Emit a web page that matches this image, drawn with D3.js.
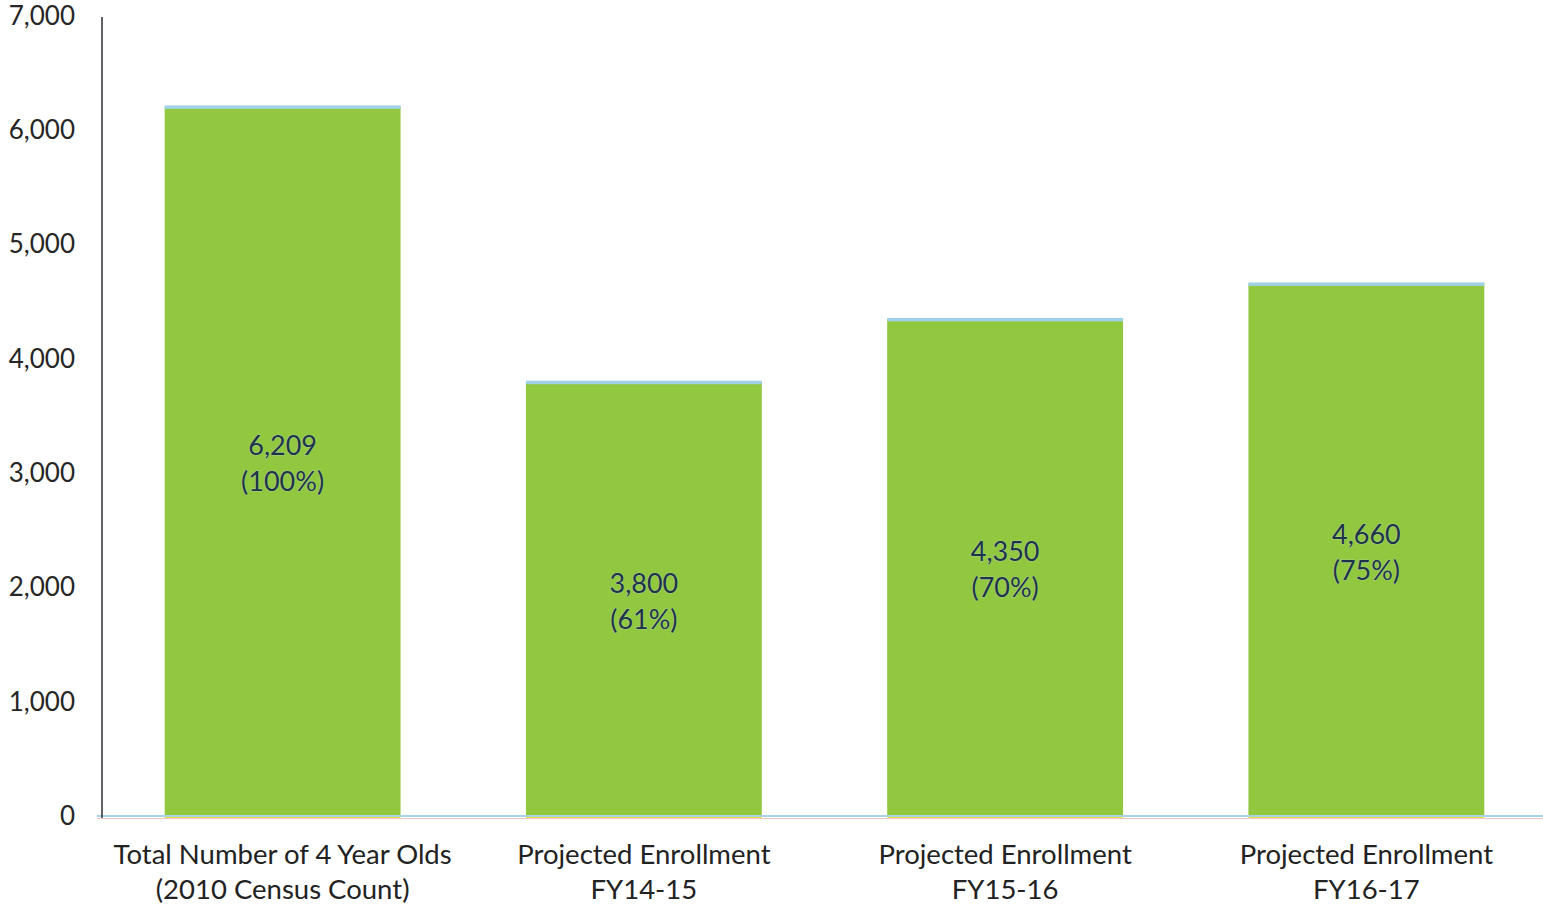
<!DOCTYPE html>
<html>
<head>
<meta charset="utf-8">
<script src="https://cdn.jsdelivr.net/npm/d3@7"></script>
<style>
  html, body { margin: 0; padding: 0; background: #fff; }
  svg { display: block; }
  text { font-family: Lato, "Open Sans", sans-serif; }
</style>
</head>
<body>
<svg id="chart" width="1543" height="906"></svg>
<script>
// Enrollment figures
const categories = [
  ["Total Number of 4 Year Olds", "(2010 Census Count)"],
  ["Projected Enrollment", "FY14-15"],
  ["Projected Enrollment", "FY15-16"],
  ["Projected Enrollment", "FY16-17"]
];
const values = [6209, 3800, 4350, 4660];
const percents = ["100%", "61%", "70%", "75%"];
const yTicks = [0, 1000, 2000, 3000, 4000, 5000, 6000, 7000];

const svg = d3.select("#chart");
const plotLeft = 102, plotRight = 1547, plotTop = 16, plotBottom = 816;

const x = d3.scaleBand()
  .domain(d3.range(categories.length))
  .range([plotLeft, plotRight])
  .paddingInner(0.347)
  .paddingOuter(0.1735);

const y = d3.scaleLinear().domain([0, 7000]).range([plotBottom, plotTop]);

// y tick labels
const yAxis = d3.axisLeft(y).tickValues(yTicks).tickFormat(d3.format(",")).tickSize(0).tickPadding(0);
const gy = svg.append("g").attr("transform", `translate(${plotLeft - 27},0)`).call(yAxis);
gy.select(".domain").remove();
gy.selectAll("text")
  .attr("font-size", 26)
  .attr("fill", "#262626")
  .attr("font-family", "Lato, 'Open Sans', sans-serif");

// bars
const bars = svg.append("g");
values.forEach((v, i) => {
  const bx = x(i), bw = x.bandwidth();
  bars.append("rect")
    .attr("x", bx).attr("y", y(v))
    .attr("width", bw).attr("height", y(0) - y(v))
    .attr("fill", "#92c840");
  // light-blue cap
  bars.append("rect")
    .attr("x", bx).attr("y", y(v) - 1)
    .attr("width", bw).attr("height", 3.5)
    .attr("fill", "#9fd2e6");
  // yellow foot
  bars.append("rect")
    .attr("x", bx).attr("y", y(0) - 1)
    .attr("width", bw).attr("height", 3)
    .attr("fill", "#e8e23a");
});

// baseline
svg.append("line")
  .attr("x1", plotLeft - 5).attr("x2", 1543)
  .attr("y1", y(0)).attr("y2", y(0))
  .attr("stroke", "#a8d4ea").attr("stroke-width", 2);
svg.append("line")
  .attr("x1", plotLeft - 5).attr("x2", 1543)
  .attr("y1", y(0) + 2.5).attr("y2", y(0) + 2.5)
  .attr("stroke", "#f2c4c4").attr("stroke-width", 1);

// y axis line
svg.append("line")
  .attr("x1", plotLeft).attr("x2", plotLeft)
  .attr("y1", plotTop + 1).attr("y2", y(0) + 2)
  .attr("stroke", "#3a3a44").attr("stroke-width", 1.6);

// value labels inside bars
const labels = svg.append("g");
values.forEach((v, i) => {
  const cx = x(i) + x.bandwidth() / 2;
  const cy = (y(v) + y(0)) / 2;
  const t = labels.append("text")
    .attr("x", cx).attr("text-anchor", "middle")
    .attr("font-size", 27).attr("fill", "#1f3346")
    .attr("stroke", "#b8dccb").attr("stroke-width", 0.6).attr("paint-order", "stroke");
  t.append("tspan").attr("x", cx).attr("y", cy - 6).text(d3.format(",")(v));
  t.append("tspan").attr("x", cx).attr("y", cy + 30).text(`(${percents[i]})`);
});

// category labels
const cats = svg.append("g");
categories.forEach((c, i) => {
  const cx = x(i) + x.bandwidth() / 2;
  const t = cats.append("text")
    .attr("text-anchor", "middle")
    .attr("font-size", 27.5).attr("fill", "#222");
  t.append("tspan").attr("x", cx).attr("y", 864).text(c[0]);
  t.append("tspan").attr("x", cx).attr("y", 899).text(c[1]);
});
</script>
</body>
</html>
